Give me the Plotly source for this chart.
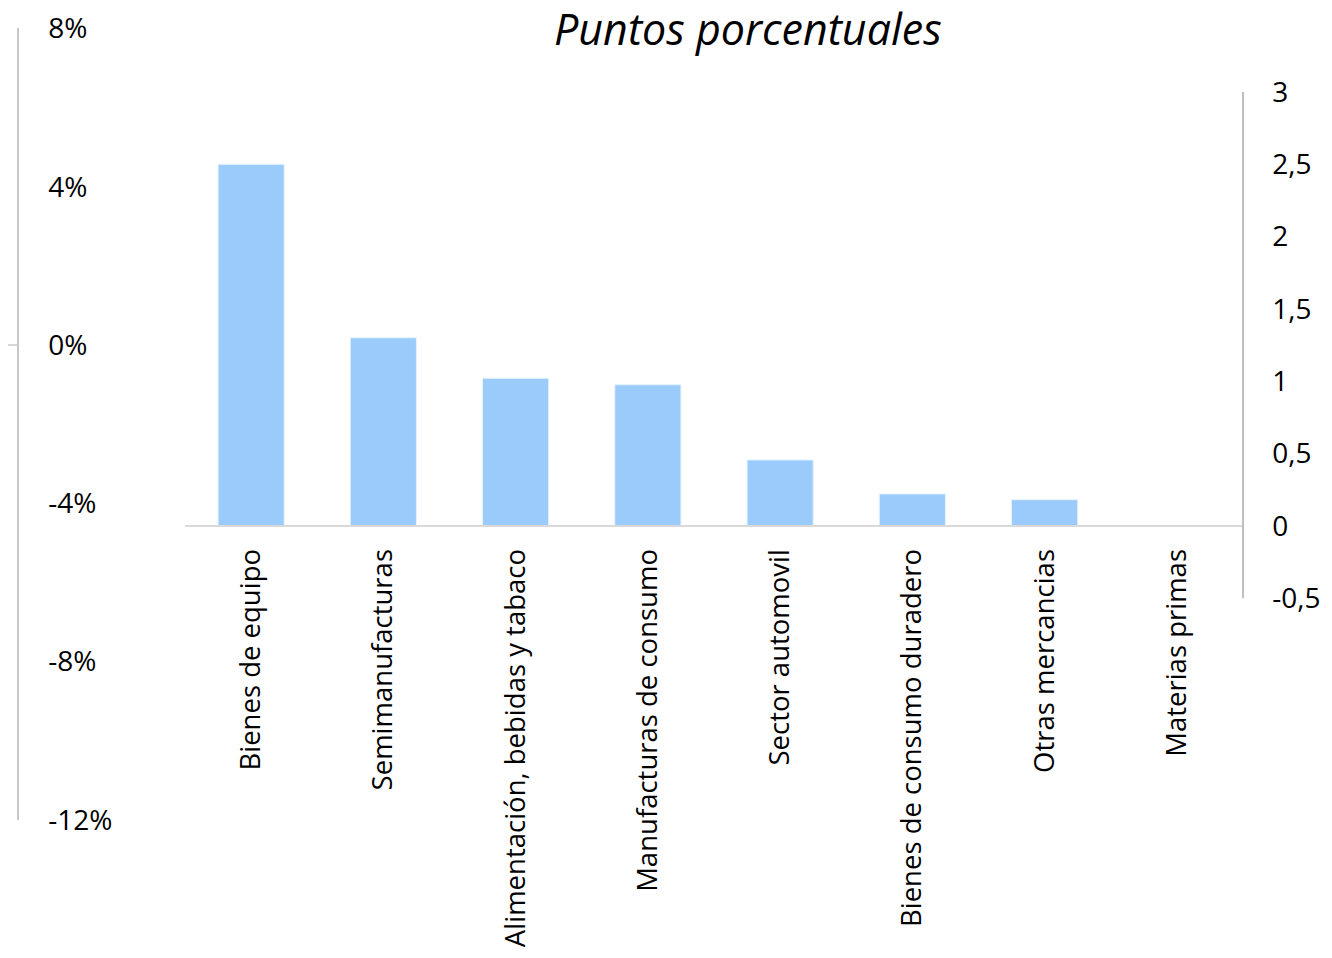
import plotly.graph_objects as go

categories = ["Bienes de equipo", "Semimanufacturas", "Alimentación, bebidas y tabaco",
              "Manufacturas de consumo", "Sector automovil", "Bienes de consumo duradero",
              "Otras mercancias", "Materias primas"]
puntos = [2.5, 1.30, 1.02, 0.975, 0.455, 0.22, 0.18, 0.0]

right_ticks = [-0.5, 0, 0.5, 1, 1.5, 2, 2.5, 3]
right_labels = ["-0,5", "0", "0,5", "1", "1,5", "2", "2,5", "3"]
left_ticks = [-12, -8, -4, 0, 4, 8]
left_labels = ["-12%", "-8%", "-4%", "0%", "4%", "8%"]

# page offset (default body margin of the html page)
O = 8
W, H = 1332 - O, 958 - O
# plot area in screen pixels
SX0, SX1, SY0, SY1 = 18, 1243, 28, 820
ml, mr, mt, mb = SX0 - O, (W + O) - SX1, SY0 - O, (H + O) - SY1
pw, ph = W - ml - mr, H - mt - mb

def py(ys):
    return (SY1 - ys) / ph

def px(xs):
    return (xs - SX0) / pw

FONT = "Open Sans"

fig = go.Figure()
fig.add_trace(go.Bar(
    x=categories, y=puntos, yaxis="y", xaxis="x",
    marker=dict(color="#9BCBFB", line=dict(color="#E6F2FE", width=1)),
    showlegend=False, hoverinfo="x+y",
))
fig.add_trace(go.Scatter(x=categories, y=[None] * len(categories), yaxis="y2", xaxis="x",
                         mode="lines", showlegend=False, hoverinfo="skip"))

fig.update_layout(
    template="none",
    width=W, height=H,
    margin=dict(l=ml, r=mr, t=mt, b=mb, autoexpand=False),
    paper_bgcolor="white", plot_bgcolor="rgba(0,0,0,0)",
    bargap=0.5,
    font=dict(family=FONT, color="#000000", size=24),
    xaxis=dict(
        domain=[px(185), 1], anchor="free", position=py(526),
        type="category", automargin=False,
        showline=True, linecolor="#D9D9D9", linewidth=2,
        showgrid=False, zeroline=False, ticks="",
        tickangle=-90, tickfont=dict(size=27.5, family=FONT),
        ticklabelstandoff=11,
    ),
    yaxis=dict(
        domain=[py(598), py(92)], range=[-0.5, 3],
        anchor="free", position=1, side="right", automargin=False,
        showline=True, linecolor="#BFBFBF", linewidth=1.5,
        showgrid=False, zeroline=False, ticks="",
        tickvals=right_ticks, ticktext=right_labels, tickfont=dict(size=28, family=FONT),
        ticklabelstandoff=23,
    ),
    yaxis2=dict(
        domain=[0, 1], range=[-12, 8.01],
        anchor="free", position=0, side="right", automargin=False,
        showline=True, linecolor="#C8C8C8", linewidth=1.5,
        showgrid=False, zeroline=False, ticks="",
        tickvals=left_ticks, ticktext=left_labels, tickfont=dict(size=28, family=FONT),
        ticklabelstandoff=24, ticklabeloverflow="allow",
    ),
    shapes=[dict(type="line", xref="paper", yref="y2", x0=-ml / pw, x1=0, y0=0, y1=0,
                 line=dict(color="#C8C8C8", width=1.5))],
    annotations=[dict(text="<i>Puntos porcentuales</i>", xref="paper", yref="paper",
                      x=px(748), y=py(28), xanchor="center", yanchor="middle",
                      showarrow=False, font=dict(size=43, family=FONT, color="#000000"))],
)

fig.write_html("out.html")
